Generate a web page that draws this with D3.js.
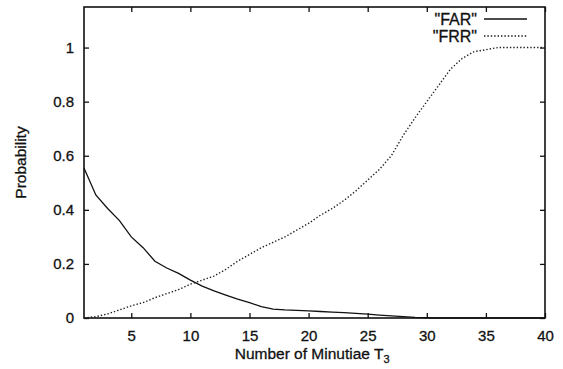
<!DOCTYPE html>
<html>
<head>
<meta charset="utf-8">
<script src="https://cdn.jsdelivr.net/npm/d3@7"></script>
<style>
	body { margin: 0; background: #fff; }
	svg text { font-family: "Liberation Sans", Arial, sans-serif; fill: #111; stroke: #111; stroke-width: 0.3px; }
</style>
</head>
<body>
<div id="chart"></div>
<script>
// threshold values T3
var minutiae = d3.range(1, 41);

// false acceptance rate
var farValues = [0.555, 0.455, 0.405, 0.36, 0.30, 0.26, 0.21, 0.185, 0.165, 0.14,
	0.118, 0.10, 0.085, 0.07, 0.057, 0.042, 0.033, 0.03, 0.028, 0.026,
	0.024, 0.022, 0.02, 0.017, 0.014, 0.011, 0.008, 0.005, 0.002, 0.001,
	0, 0, 0, 0, 0, 0, 0, 0, 0, 0];

// false rejection rate
var frrValues = [0.0, 0.005, 0.015, 0.03, 0.045, 0.057, 0.075, 0.09, 0.105, 0.125,
	0.14, 0.155, 0.18, 0.21, 0.235, 0.26, 0.28, 0.30, 0.325, 0.35,
	0.38, 0.405, 0.435, 0.47, 0.51, 0.55, 0.60, 0.675, 0.74, 0.80,
	0.86, 0.92, 0.96, 0.985, 0.992, 1.0, 1.0, 1.0, 1.0, 1.0];

var xTicks = [5, 10, 15, 20, 25, 30, 35, 40];
var yTicks = [0, 0.2, 0.4, 0.6, 0.8, 1];

var width = 563, height = 369;
var margin = {left: 84, right: 18, top: 7, bottom: 51};

var x = d3.scaleLinear()
	.domain([1, 40])
	.range([margin.left, width - margin.right]);

var y = d3.scaleLinear()
	.domain([0, 1.15])
	.range([height - margin.bottom, margin.top]);

var svg = d3.select("#chart").append("svg")
	.attr("width", width)
	.attr("height", height);

// ticks pointing inwards, mirrored on top/right like gnuplot
var tickLen = 5;
svg.append("g")
	.attr("transform", "translate(0," + y(0) + ")")
	.call(d3.axisBottom(x).tickValues(xTicks).tickSize(-tickLen).tickPadding(12))
	.call(function(g) { g.select(".domain").remove(); });
svg.append("g")
	.attr("transform", "translate(0," + margin.top + ")")
	.call(d3.axisTop(x).tickValues(xTicks).tickSize(-tickLen).tickFormat(""))
	.call(function(g) { g.select(".domain").remove(); });
svg.append("g")
	.attr("transform", "translate(" + margin.left + ",0)")
	.call(d3.axisLeft(y).tickValues(yTicks).tickSize(-tickLen).tickPadding(10).tickFormat(d3.format("~g")))
	.call(function(g) { g.select(".domain").remove(); });
svg.append("g")
	.attr("transform", "translate(" + (width - margin.right) + ",0)")
	.call(d3.axisRight(y).tickValues(yTicks).tickSize(-tickLen).tickFormat(""))
	.call(function(g) { g.select(".domain").remove(); });

svg.selectAll(".tick line").attr("stroke", "#111").attr("stroke-width", 1.3);
svg.selectAll(".tick text").style("font-size", "15px").attr("fill", "#111");

// frame
svg.append("rect")
	.attr("x", x(1))
	.attr("y", margin.top)
	.attr("width", x(40) - x(1))
	.attr("height", y(0) - margin.top)
	.attr("fill", "none")
	.attr("stroke", "#111")
	.attr("stroke-width", 1.6);

var line = d3.line()
	.x(function(d) { return x(d[0]); })
	.y(function(d) { return y(d[1]); });

svg.append("path")
	.datum(d3.zip(minutiae, farValues))
	.attr("d", line)
	.attr("fill", "none")
	.attr("stroke", "#111")
	.attr("stroke-width", 1.3);

svg.append("path")
	.datum(d3.zip(minutiae, frrValues))
	.attr("d", line)
	.attr("fill", "none")
	.attr("stroke", "#222")
	.attr("stroke-width", 1.4)
	.attr("stroke-dasharray", "1.4,2");

// legend
var legend = [{name: "\"FAR\"", dash: null, y: 19}, {name: "\"FRR\"", dash: "1.4,2", y: 36}];
legend.forEach(function(l) {
	svg.append("text")
		.attr("x", 477)
		.attr("y", l.y + 6)
		.attr("text-anchor", "end")
		.style("font-size", "16px")
		.text(l.name);
	svg.append("line")
		.attr("x1", 484).attr("x2", 527)
		.attr("y1", l.y).attr("y2", l.y)
		.attr("stroke", "#111")
		.attr("stroke-width", 1.3)
		.attr("stroke-dasharray", l.dash);
});

// axis titles
svg.append("text")
	.attr("transform", "translate(26," + ((margin.top + y(0)) / 2) + ") rotate(-90)")
	.attr("text-anchor", "middle")
	.style("font-size", "15.5px")
	.text("Probability");

var xt = svg.append("text")
	.attr("x", x(20.3))
	.attr("y", 359)
	.attr("text-anchor", "middle")
	.style("font-size", "15.5px");
xt.append("tspan").text("Number of Minutiae T");
xt.append("tspan").attr("dy", 4).style("font-size", "11px").text("3");
</script>
</body>
</html>
